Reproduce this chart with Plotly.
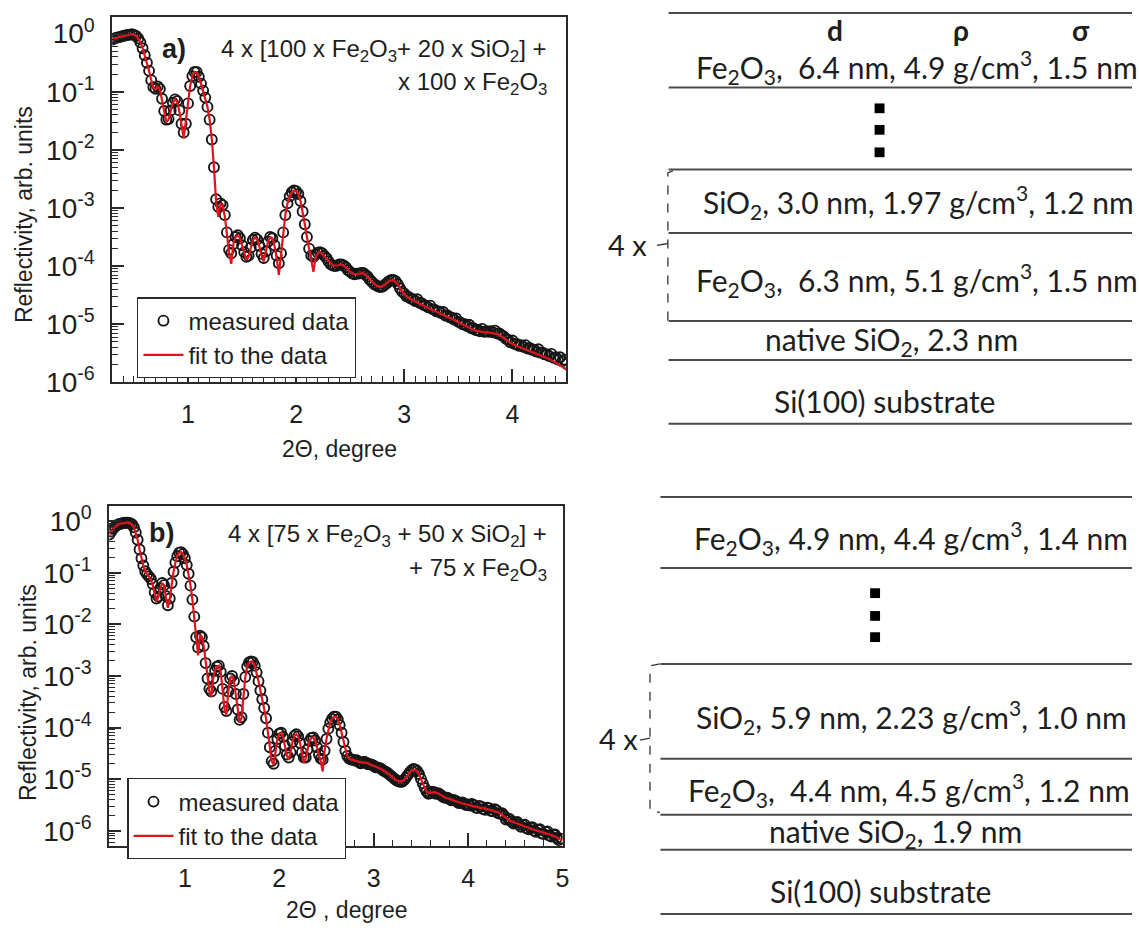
import plotly.graph_objects as go

W, H = 1139, 933
FONT = "Liberation Sans, Arial, sans-serif"
SFONT = "Lato, Open Sans, sans-serif"

# ---------------- panel a) data (2Theta in degree, log10 of reflectivity) ----------------
a_x_low = [0.30, 0.32, 0.34, 0.36, 0.38, 0.40, 0.42, 0.44, 0.46, 0.48,
           0.50, 0.52, 0.54, 0.56, 0.58, 0.60, 0.62, 0.64, 0.66, 0.68,
           0.70, 0.72, 0.74, 0.76, 0.78, 0.80, 0.82, 0.84, 0.86, 0.88,
           0.90, 0.92, 0.94, 0.96, 0.98, 1.00, 1.02, 1.04, 1.06, 1.08,
           1.10, 1.12, 1.14, 1.16, 1.18, 1.20, 1.22, 1.24, 1.26, 1.28,
           1.30, 1.32, 1.34, 1.36, 1.38, 1.40, 1.42, 1.44, 1.46, 1.48,
           1.50, 1.52, 1.54, 1.56, 1.58, 1.60, 1.62, 1.64, 1.66, 1.68,
           1.70, 1.72, 1.74, 1.76, 1.78, 1.80, 1.82, 1.84, 1.86, 1.88,
           1.90, 1.92, 1.94, 1.96, 1.98, 2.00, 2.02, 2.04, 2.06, 2.08,
           2.10, 2.12, 2.14, 2.16, 2.18, 2.20, 2.22, 2.24, 2.26]
a_meas_low = [-0.10, -0.08, -0.07, -0.06, -0.05, -0.04, -0.03, -0.02, -0.02, -0.01,
              -0.02, -0.04, -0.08, -0.15, -0.25, -0.37, -0.50, -0.64, -0.80, -0.92,
              -0.95, -0.91, -0.95, -1.12, -1.33, -1.48, -1.47, -1.32, -1.19, -1.13,
              -1.16, -1.32, -1.55, -1.70, -1.55, -1.20, -0.90, -0.73, -0.66, -0.66,
              -0.74, -0.86, -0.98, -1.10, -1.26, -1.48, -1.82, -2.30, -2.85, -2.98,
              -2.92, -2.95, -3.12, -3.42, -3.72, -3.78, -3.62, -3.50, -3.47, -3.52,
              -3.64, -3.76, -3.84, -3.82, -3.68, -3.55, -3.51, -3.54, -3.65, -3.79,
              -3.86, -3.75, -3.58, -3.50, -3.52, -3.64, -3.82, -3.95, -3.78, -3.42,
              -3.12, -2.92, -2.80, -2.73, -2.70, -2.71, -2.76, -2.88, -3.06, -3.28,
              -3.50, -3.70, -3.82, -3.84, -3.80, -3.77, -3.76, -3.78, -3.82]
a_fit_low = [-0.10, -0.08, -0.07, -0.06, -0.05, -0.04, -0.03, -0.02, -0.02, -0.01,
             -0.02, -0.04, -0.08, -0.15, -0.25, -0.37, -0.50, -0.64, -0.80, -0.93,
             -0.96, -0.91, -0.96, -1.13, -1.35, -1.52, -1.48, -1.32, -1.19, -1.13,
             -1.17, -1.34, -1.58, -1.80, -1.50, -1.18, -0.90, -0.73, -0.66, -0.66,
             -0.74, -0.86, -0.98, -1.10, -1.26, -1.48, -1.82, -2.30, -2.90, -3.15,
             -2.93, -2.96, -3.14, -3.45, -3.78, -3.96, -3.62, -3.50, -3.47, -3.52,
             -3.65, -3.78, -3.90, -3.84, -3.68, -3.55, -3.51, -3.54, -3.66, -3.82,
             -3.92, -3.74, -3.58, -3.50, -3.52, -3.65, -3.86, -4.15, -3.80, -3.42,
             -3.12, -2.92, -2.80, -2.73, -2.70, -2.71, -2.76, -2.88, -3.06, -3.28,
             -3.50, -3.72, -3.95, -4.10, -3.85, -3.78, -3.76, -3.78, -3.83]
a_x_meas_high = [2.28, 2.30, 2.32, 2.34, 2.36, 2.38, 2.40, 2.42, 2.44, 2.46,
                 2.48, 2.50, 2.52, 2.54, 2.56, 2.58, 2.60, 2.62, 2.64, 2.66,
                 2.68, 2.70, 2.72, 2.74, 2.76, 2.78, 2.80, 2.82, 2.84, 2.86,
                 2.88, 2.90, 2.92, 2.94, 2.96, 2.98, 3.00, 3.02, 3.04, 3.06,
                 3.08, 3.10, 3.12, 3.14, 3.16, 3.18, 3.20, 3.22, 3.24, 3.26,
                 3.28, 3.30, 3.32, 3.34, 3.36, 3.38, 3.40, 3.42, 3.44, 3.46,
                 3.48, 3.50, 3.52, 3.54, 3.56, 3.58, 3.60, 3.62, 3.64, 3.66,
                 3.68, 3.70, 3.72, 3.74, 3.76, 3.78, 3.80, 3.82, 3.84, 3.86,
                 3.88, 3.90, 3.92, 3.94, 3.96, 3.98, 4.00, 4.02, 4.04, 4.06,
                 4.08, 4.10, 4.12, 4.14, 4.16, 4.18, 4.20, 4.22, 4.24, 4.26,
                 4.28, 4.30, 4.32, 4.34, 4.36, 4.38, 4.40, 4.42, 4.44, 4.46,
                 4.48, 4.50]
a_meas_high = [-3.86, -3.92, -3.97, -3.99, -4.00, -3.99, -3.97, -3.97, -3.99, -4.02,
               -4.07, -4.10, -4.13, -4.14, -4.13, -4.13, -4.12, -4.12, -4.15, -4.18,
               -4.23, -4.27, -4.31, -4.33, -4.35, -4.36, -4.35, -4.32, -4.29, -4.26,
               -4.24, -4.24, -4.26, -4.31, -4.38, -4.44, -4.47, -4.52, -4.53, -4.56,
               -4.57, -4.60, -4.57, -4.63, -4.64, -4.67, -4.68, -4.71, -4.68, -4.74,
               -4.75, -4.78, -4.78, -4.81, -4.79, -4.85, -4.85, -4.88, -4.89, -4.92,
               -4.90, -4.96, -4.97, -5.00, -5.00, -5.03, -5.01, -5.07, -5.07, -5.10,
               -5.10, -5.12, -5.08, -5.13, -5.12, -5.13, -5.12, -5.14, -5.11, -5.16,
               -5.16, -5.19, -5.21, -5.25, -5.27, -5.31, -5.28, -5.34, -5.34, -5.37,
               -5.36, -5.39, -5.36, -5.42, -5.41, -5.44, -5.44, -5.47, -5.43, -5.49,
               -5.49, -5.52, -5.52, -5.55, -5.51, -5.58, -5.57, -5.61, -5.57, -5.64,
               -5.61, -5.68]
a_x_fit_high = [2.30, 2.34, 2.38, 2.42, 2.46, 2.50, 2.54, 2.58, 2.62, 2.66,
                2.70, 2.74, 2.78, 2.82, 2.86, 2.90, 2.94, 2.98, 3.02, 3.06,
                3.10, 3.14, 3.18, 3.22, 3.26, 3.30, 3.34, 3.38, 3.42, 3.46,
                3.50, 3.54, 3.58, 3.62, 3.66, 3.70, 3.74, 3.78, 3.82, 3.86,
                3.90, 3.94, 3.98, 4.02, 4.06, 4.10, 4.14, 4.18, 4.22, 4.26,
                4.30, 4.34, 4.38, 4.42, 4.46, 4.50]
a_fit_high = [-3.92, -3.99, -3.99, -3.97, -4.02, -4.10, -4.14, -4.13, -4.12, -4.18,
              -4.27, -4.33, -4.36, -4.32, -4.26, -4.24, -4.31, -4.44, -4.52, -4.57,
              -4.61, -4.64, -4.68, -4.72, -4.75, -4.79, -4.82, -4.86, -4.89, -4.93,
              -4.97, -5.01, -5.04, -5.08, -5.11, -5.13, -5.14, -5.14, -5.15, -5.17,
              -5.21, -5.27, -5.32, -5.36, -5.39, -5.41, -5.44, -5.47, -5.50, -5.53,
              -5.56, -5.60, -5.64, -5.68, -5.73, -5.78]

# ---------------- panel b) data ----------------
b_x_low = [0.20, 0.22, 0.24, 0.26, 0.28, 0.30, 0.32, 0.34, 0.36, 0.38,
           0.40, 0.42, 0.44, 0.46, 0.48, 0.50, 0.52, 0.54, 0.56, 0.58,
           0.60, 0.62, 0.64, 0.66, 0.68, 0.70, 0.72, 0.74, 0.76, 0.78,
           0.80, 0.82, 0.84, 0.86, 0.88, 0.90, 0.92, 0.94, 0.96, 0.98,
           1.00, 1.02, 1.04, 1.06, 1.08, 1.10, 1.12, 1.14, 1.16, 1.18,
           1.20, 1.22, 1.24, 1.26, 1.28, 1.30, 1.32, 1.34, 1.36, 1.38,
           1.40, 1.42, 1.44, 1.46, 1.48, 1.50, 1.52, 1.54, 1.56, 1.58,
           1.60, 1.62, 1.64, 1.66, 1.68, 1.70, 1.72, 1.74, 1.76, 1.78,
           1.80, 1.82, 1.84, 1.86, 1.88, 1.90, 1.92, 1.94, 1.96, 1.98,
           2.00, 2.02, 2.04, 2.06, 2.08, 2.10, 2.12, 2.14, 2.16, 2.18,
           2.20, 2.22, 2.24, 2.26, 2.28, 2.30, 2.32, 2.34, 2.36, 2.38,
           2.40, 2.42, 2.44, 2.46, 2.48, 2.50, 2.52, 2.54, 2.56, 2.58,
           2.60, 2.62, 2.64, 2.66, 2.68, 2.70, 2.72, 2.74, 2.76, 2.78,
           2.80]
b_meas_low = [-0.26, -0.20, -0.15, -0.11, -0.08, -0.06, -0.05, -0.04, -0.03, -0.03,
              -0.03, -0.04, -0.06, -0.12, -0.22, -0.36, -0.55, -0.72, -0.86, -0.97,
              -1.03, -1.07, -1.12, -1.22, -1.38, -1.50, -1.46, -1.30, -1.20, -1.24,
              -1.45, -1.63, -1.50, -1.20, -0.98, -0.80, -0.68, -0.61, -0.60, -0.64,
              -0.72, -0.85, -1.02, -1.25, -1.52, -1.85, -2.25, -2.45, -2.22, -2.25,
              -2.42, -2.75, -3.05, -3.25, -3.30, -3.05, -2.90, -2.82, -2.80, -2.92,
              -3.25, -3.60, -3.68, -3.30, -3.05, -3.00, -3.10, -3.35, -3.65, -3.85,
              -3.80, -3.35, -3.02, -2.82, -2.74, -2.72, -2.73, -2.80, -2.93, -3.10,
              -3.28, -3.45, -3.62, -3.82, -4.10, -4.38, -4.65, -4.70, -4.45, -4.22,
              -4.12, -4.10, -4.18, -4.35, -4.52, -4.58, -4.48, -4.28, -4.16, -4.13,
              -4.17, -4.30, -4.48, -4.58, -4.58, -4.42, -4.26, -4.20, -4.19, -4.25,
              -4.38, -4.52, -4.60, -4.62, -4.45, -4.22, -4.02, -3.90, -3.83, -3.79,
              -3.79, -3.84, -3.95, -4.10, -4.28, -4.45, -4.55, -4.60, -4.62, -4.62,
              -4.64]
b_fit_low = [-0.26, -0.20, -0.15, -0.11, -0.08, -0.06, -0.05, -0.04, -0.03, -0.03,
             -0.03, -0.04, -0.06, -0.12, -0.22, -0.36, -0.55, -0.72, -0.86, -0.98,
             -1.04, -1.08, -1.13, -1.24, -1.40, -1.55, -1.47, -1.30, -1.20, -1.25,
             -1.48, -1.68, -1.50, -1.20, -0.98, -0.80, -0.68, -0.61, -0.60, -0.64,
             -0.72, -0.85, -1.02, -1.25, -1.52, -1.88, -2.35, -2.60, -2.22, -2.24,
             -2.42, -2.75, -3.08, -3.30, -3.40, -3.05, -2.90, -2.82, -2.80, -2.92,
             -3.27, -3.65, -3.75, -3.30, -3.05, -3.00, -3.10, -3.37, -3.70, -3.90,
             -3.82, -3.35, -3.02, -2.82, -2.74, -2.72, -2.73, -2.80, -2.93, -3.10,
             -3.28, -3.45, -3.62, -3.82, -4.10, -4.38, -4.65, -4.72, -4.45, -4.22,
             -4.12, -4.10, -4.18, -4.35, -4.54, -4.62, -4.48, -4.28, -4.16, -4.13,
             -4.17, -4.30, -4.50, -4.68, -4.60, -4.42, -4.26, -4.20, -4.19, -4.25,
             -4.38, -4.54, -4.66, -4.85, -4.45, -4.22, -4.02, -3.90, -3.83, -3.79,
             -3.79, -3.84, -3.95, -4.10, -4.28, -4.45, -4.55, -4.60, -4.62, -4.62,
             -4.64]
b_x_meas_high = [2.82, 2.84, 2.86, 2.88, 2.90, 2.92, 2.94, 2.96, 2.98, 3.00,
                 3.02, 3.04, 3.06, 3.08, 3.10, 3.12, 3.14, 3.16, 3.18, 3.20,
                 3.22, 3.24, 3.26, 3.28, 3.30, 3.32, 3.34, 3.36, 3.38, 3.40,
                 3.42, 3.44, 3.46, 3.48, 3.50, 3.52, 3.54, 3.56, 3.58, 3.60,
                 3.62, 3.64, 3.66, 3.68, 3.70, 3.72, 3.74, 3.76, 3.78, 3.80,
                 3.82, 3.84, 3.86, 3.88, 3.90, 3.92, 3.94, 3.96, 3.98, 4.00,
                 4.02, 4.04, 4.06, 4.08, 4.10, 4.12, 4.14, 4.16, 4.18, 4.20,
                 4.22, 4.24, 4.26, 4.28, 4.30, 4.32, 4.34, 4.36, 4.38, 4.40,
                 4.42, 4.44, 4.46, 4.48, 4.50, 4.52, 4.54, 4.56, 4.58, 4.60,
                 4.62, 4.64, 4.66, 4.68, 4.70, 4.72, 4.74, 4.76, 4.78, 4.80,
                 4.82, 4.84, 4.86, 4.88, 4.90, 4.92, 4.94, 4.96, 4.98, 5.00]
b_meas_high = [-4.63, -4.66, -4.69, -4.68, -4.66, -4.68, -4.71, -4.71, -4.72, -4.74,
               -4.77, -4.77, -4.78, -4.80, -4.83, -4.85, -4.87, -4.90, -4.93, -4.96,
               -4.99, -5.02, -5.04, -5.05, -5.05, -5.02, -4.97, -4.92, -4.87, -4.83,
               -4.80, -4.81, -4.84, -4.90, -4.99, -5.08, -5.17, -5.24, -5.28, -5.27,
               -5.24, -5.25, -5.28, -5.27, -5.29, -5.32, -5.35, -5.36, -5.36, -5.38,
               -5.41, -5.40, -5.41, -5.43, -5.46, -5.46, -5.45, -5.48, -5.50, -5.49,
               -5.51, -5.48, -5.50, -5.55, -5.56, -5.52, -5.53, -5.58, -5.59, -5.55,
               -5.56, -5.61, -5.62, -5.58, -5.60, -5.66, -5.67, -5.66, -5.70, -5.78,
               -5.76, -5.77, -5.82, -5.86, -5.84, -5.83, -5.88, -5.92, -5.89, -5.88,
               -5.95, -5.97, -5.94, -5.93, -6.00, -6.02, -5.98, -5.97, -6.05, -6.06,
               -6.02, -6.01, -6.09, -6.11, -6.07, -6.07, -6.14, -6.18, -6.15, -6.16]
b_x_fit_high = [2.84, 2.88, 2.92, 2.96, 3.00, 3.04, 3.08, 3.12, 3.16, 3.20,
                3.24, 3.28, 3.32, 3.36, 3.40, 3.44, 3.48, 3.52, 3.56, 3.60,
                3.64, 3.68, 3.72, 3.76, 3.80, 3.84, 3.88, 3.92, 3.96, 4.00,
                4.04, 4.08, 4.12, 4.16, 4.20, 4.24, 4.28, 4.32, 4.36, 4.40,
                4.44, 4.48, 4.52, 4.56, 4.60, 4.64, 4.68, 4.72, 4.76, 4.80,
                4.84, 4.88, 4.92, 4.96, 5.00]
b_fit_high = [-4.66, -4.68, -4.68, -4.71, -4.74, -4.77, -4.80, -4.85, -4.90, -4.96,
              -5.02, -5.05, -5.02, -4.92, -4.83, -4.81, -4.90, -5.08, -5.24, -5.27,
              -5.25, -5.27, -5.32, -5.36, -5.38, -5.40, -5.43, -5.46, -5.48, -5.49,
              -5.51, -5.53, -5.55, -5.56, -5.58, -5.59, -5.61, -5.64, -5.69, -5.75,
              -5.80, -5.83, -5.86, -5.89, -5.92, -5.94, -5.97, -5.99, -6.01, -6.03,
              -6.05, -6.08, -6.11, -6.15, -6.19]

for xs, ys in [(a_x_low, a_meas_low), (a_x_low, a_fit_low), (a_x_meas_high, a_meas_high),
               (a_x_fit_high, a_fit_high), (b_x_low, b_meas_low), (b_x_low, b_fit_low),
               (b_x_meas_high, b_meas_high), (b_x_fit_high, b_fit_high)]:
    assert len(xs) == len(ys), (len(xs), len(ys))

# axis ticks
a_xticks = [1, 2, 3, 4]
b_xticks = [1, 2, 3, 4, 5]
y_decades = [-6, -5, -4, -3, -2, -1, 0]
y_ticktext = ["10<sup>%d</sup>" % d for d in y_decades]

series_names = ["measured data", "fit to the data"]
panel_labels = ["a)", "b)"]
a_formula = ["4 x [100 x Fe<sub>2</sub>O<sub>3</sub>+ 20 x SiO<sub>2</sub>] +",
             "x 100 x Fe<sub>2</sub>O<sub>3</sub>"]
b_formula = ["4 x [75 x Fe<sub>2</sub>O<sub>3</sub> + 50 x SiO<sub>2</sub>] +",
             "+ 75 x Fe<sub>2</sub>O<sub>3</sub>"]

# layer stacks (right-hand schemes)
a_layers = ["Fe<sub>2</sub>O<sub>3</sub>,\u00a0 6.4 nm, 4.9 g/cm<sup>3</sup>, 1.5 nm",
            "SiO<sub>2</sub>, 3.0 nm, 1.97 g/cm<sup>3</sup>, 1.2 nm",
            "Fe<sub>2</sub>O<sub>3</sub>,\u00a0 6.3 nm, 5.1 g/cm<sup>3</sup>, 1.5 nm",
            "native SiO<sub>2</sub>, 2.3 nm",
            "Si(100) substrate"]
b_layers = ["Fe<sub>2</sub>O<sub>3</sub>, 4.9 nm, 4.4 g/cm<sup>3</sup>, 1.4 nm",
            "SiO<sub>2</sub>, 5.9 nm, 2.23 g/cm<sup>3</sup>, 1.0 nm",
            "Fe<sub>2</sub>O<sub>3</sub>,\u00a0 4.4 nm, 4.5 g/cm<sup>3</sup>, 1.2 nm",
            "native SiO<sub>2</sub>, 1.9 nm",
            "Si(100) substrate"]
headers = ["d", "\u03c1", "\u03c3"]


def px(v):
    return v / W


def py(v):
    return 1 - v / H


def pw(vals):
    return [10 ** v for v in vals]


fig = go.Figure()

MARK = dict(symbol="circle-open", size=10, color="#151515", line=dict(width=1.9, color="#151515"))
RED = dict(color="#e0141c", width=2.2)

fig.add_trace(go.Scatter(x=a_x_low + a_x_meas_high, y=pw(a_meas_low + a_meas_high), mode="markers",
                         marker=MARK, name=series_names[0], xaxis="x", yaxis="y", legend="legend"))
fig.add_trace(go.Scatter(x=a_x_low + a_x_fit_high, y=pw(a_fit_low + a_fit_high), mode="lines",
                         line=RED, name=series_names[1], xaxis="x", yaxis="y", legend="legend"))
fig.add_trace(go.Scatter(x=b_x_low + b_x_meas_high, y=pw(b_meas_low + b_meas_high), mode="markers",
                         marker=MARK, name=series_names[0], xaxis="x2", yaxis="y2", legend="legend2"))
fig.add_trace(go.Scatter(x=b_x_low + b_x_fit_high, y=pw(b_fit_low + b_fit_high), mode="lines",
                         line=RED, name=series_names[1], xaxis="x2", yaxis="y2", legend="legend2"))

AX = "#2a2a2a"
TXT = "#1e1e1e"


def xaxis(domain, rng, major, minor, anchor):
    return dict(domain=domain, range=rng, anchor=anchor, tickmode="array", tickvals=major,
                ticktext=[str(v) for v in major], ticks="inside", ticklen=13, tickwidth=1.6,
                tickcolor=AX, showline=True, linecolor=AX, linewidth=2, mirror=True,
                showgrid=False, zeroline=False, ticklabelstandoff=9,
                tickfont=dict(family=FONT, size=25, color=TXT),
                minor=dict(tickmode="array", tickvals=minor, ticks="inside", ticklen=6,
                           tickwidth=1.3, tickcolor=AX, showgrid=False))


def yaxis(domain, rng, anchor):
    minor = [k * 10.0 ** d for d in range(-7, 1) for k in range(2, 10)]
    return dict(domain=domain, range=rng, anchor=anchor, type="log", tickmode="array",
                tickvals=[10.0 ** d for d in y_decades], ticktext=y_ticktext,
                ticks="inside", ticklen=12, tickwidth=1.6, tickcolor=AX,
                showline=True, linecolor=AX, linewidth=2, mirror=True,
                showgrid=False, zeroline=False, ticklabelstandoff=10,
                tickfont=dict(family=FONT, size=28, color=TXT),
                minor=dict(tickmode="array", tickvals=minor, ticks="inside", ticklen=6,
                           tickwidth=1.2, tickcolor=AX, showgrid=False))


a_minor_x = [round(0.4 + 0.1 * i, 2) for i in range(41)]
a_minor_x = [v for v in a_minor_x if abs(v - round(v)) > 1e-6]
b_minor_x = [round(0.2 + 0.2 * i, 2) for i in range(25)]
b_minor_x = [v for v in b_minor_x if abs(v - round(v)) > 1e-6]

fig.update_layout(
    width=W, height=H, margin=dict(l=0, r=0, t=0, b=0),
    paper_bgcolor="white", plot_bgcolor="white",
    xaxis=xaxis([px(113), px(570)], [0.3, 4.5], a_xticks, a_minor_x, "y"),
    yaxis=yaxis([py(386), py(12.7)], [-6, 0.28], "x"),
    xaxis2=xaxis([px(110), px(566)], [0.2, 5.0], b_xticks, b_minor_x, "y2"),
    yaxis2=yaxis([py(860.7), py(512.7)], [-6.30, 0.29], "x2"),
    legend=dict(x=px(138), y=py(299), xanchor="left", yanchor="top", bgcolor="white",
                bordercolor=AX, borderwidth=1.3, font=dict(family=FONT, size=24, color=TXT),
                tracegroupgap=0, itemwidth=40),
    legend2=dict(x=px(128), y=py(791), xanchor="left", yanchor="top", bgcolor="white",
                 bordercolor=AX, borderwidth=1.3, font=dict(family=FONT, size=24, color=TXT),
                 tracegroupgap=0, itemwidth=40),
    showlegend=True,
)

ann = []


def text(x, y, s, size=24, family=FONT, xanchor="center", angle=0, bold=False):
    if bold:
        s = "<b>" + s + "</b>"
    ann.append(dict(x=px(x), y=py(y), xref="paper", yref="paper", text=s, showarrow=False,
                    xanchor=xanchor, yanchor="middle", textangle=angle,
                    font=dict(family=family, size=size, color=TXT)))


# axis titles
text(24, 214, "Reflectivity, arb. units", size=23, angle=-90)
text(342, 454, "2\u0398, degree", size=23)
text(28, 703, "Reflectivity, arb. units", size=23, angle=-90)
text(349, 926, "2\u0398 , degree", size=23)

# panel labels and formulas
text(175, 45, panel_labels[0], size=27, bold=True)
text(552, 47, a_formula[0], xanchor="right")
text(552, 80, a_formula[1], xanchor="right")
text(163, 540, panel_labels[1], size=27, bold=True)
text(552, 543, b_formula[0], xanchor="right")
text(552, 578, b_formula[1], xanchor="right")

shapes = []
LC = "#4a4a4a"


def hline(x0, x1, y):
    shapes.append(dict(type="line", xref="paper", yref="paper", x0=px(x0), x1=px(x1),
                       y0=py(y), y1=py(y), line=dict(color=LC, width=2)))


def dot(cx, cy):
    shapes.append(dict(type="rect", xref="paper", yref="paper", x0=px(cx - 5), x1=px(cx + 5),
                       y0=py(cy + 5), y1=py(cy - 5), fillcolor="black", line=dict(width=0)))


def bracket(x, y0, y1, hook, midy, tickx):
    path = "M %f,%f L %f,%f L %f,%f L %f,%f" % (px(x + hook), py(y0 - 2), px(x), py(y0),
                                                 px(x), py(y1), px(x + hook), py(y1 + 2))
    shapes.append(dict(type="path", xref="paper", yref="paper", path=path,
                       line=dict(color="#333", width=1.3, dash="dash")))
    shapes.append(dict(type="line", xref="paper", yref="paper", x0=px(tickx), x1=px(x),
                       y0=py(midy), y1=py(midy - 2), line=dict(color="#333", width=1.3)))


SS = 30
# top scheme
for yy in [8.3, 84.3, 168.3, 233.3, 323.3, 363.3, 428.3]:
    hline(672.7, 1139, yy)
text(840, 26, headers[0], size=28, family=SFONT, bold=True)
text(967, 26, headers[1], size=28, family=SFONT, bold=True)
text(1088, 26, headers[2], size=28, family=SFONT, bold=True)
text(698, 63, a_layers[0], size=SS, family=SFONT, xanchor="left")
for cy in [105.7, 127.7, 150.7]:
    dot(885, cy)
text(705, 201.7, a_layers[1], size=SS, family=SFONT, xanchor="left")
text(698, 281.7, a_layers[2], size=SS, family=SFONT, xanchor="left")
text(897, 343.3, a_layers[3], size=SS, family=SFONT)
text(890, 405, a_layers[4], size=SS, family=SFONT)
bracket(672, 171.7, 322.7, 5, 246, 661)
text(631, 245, "4 x", size=SS - 1, family=SFONT)

# bottom scheme
for yy in [503.3, 576, 674.3, 771, 828.3, 864.3, 930]:
    hline(664.5, 1139, yy)
text(696, 545, b_layers[0], size=SS, family=SFONT, xanchor="left")
for cy in [601.7, 625, 646.7]:
    dot(880.5, cy)
text(698, 728.3, b_layers[1], size=SS, family=SFONT, xanchor="left")
text(690, 803.3, b_layers[2], size=SS, family=SFONT, xanchor="left")
text(901, 846.7, b_layers[3], size=SS, family=SFONT)
text(886, 906.7, b_layers[4], size=SS, family=SFONT)
bracket(654, 676, 824, 10, 752, 644)
text(622, 750, "4 x", size=SS - 1, family=SFONT)

fig.update_layout(annotations=ann, shapes=shapes)
fig.write_html("out.html")
